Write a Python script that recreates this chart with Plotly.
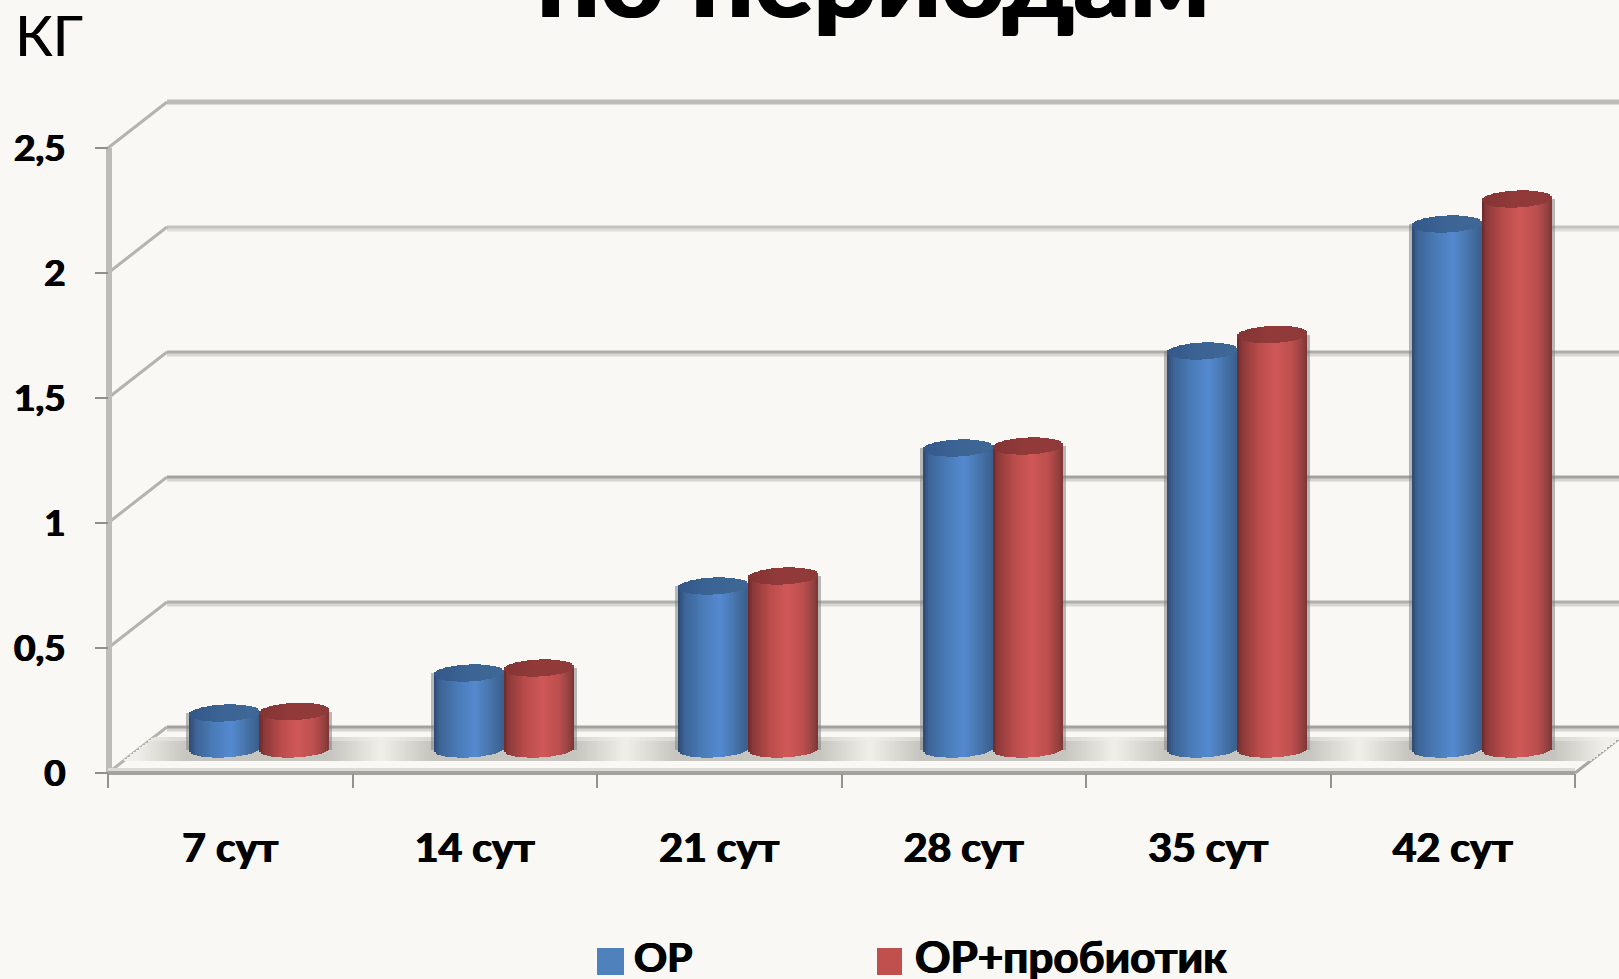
import numpy as np
import plotly.graph_objects as go

# ---- data ----
categories = ["7 сут", "14 сут", "21 сут", "28 сут", "35 сут", "42 сут"]
series_names = ["ОР", "ОР+пробиотик"]
values_or = [0.144, 0.304, 0.652, 1.204, 1.592, 2.10]
values_orp = [0.150, 0.324, 0.692, 1.212, 1.658, 2.20]
y_ticks = [0, 0.5, 1, 1.5, 2, 2.5]
y_labels = ["0", "0,5", "1", "1,5", "2", "2,5"]

# ---- geometry (pixels of the page) ----
W, H = 1619, 979
X0, Y0 = 108, 773       # pixel of data origin
PX_X, PX_Y = 244.5, 250 # pixels per category, per unit
DEPTH_X, DEPTH_Y = 59 / PX_X, 46 / PX_Y
BG = "#f9f8f4"
FONT = "Lato"
THICK = "0.7px 0 0 black, -0.7px 0 0 black"
n = len(categories)


def xd(px):
    return (px - X0) / PX_X


def yd(px):
    return (Y0 - px) / PX_Y


def hexrgb(h):
    return [int(h[i:i + 2], 16) for i in (1, 3, 5)]


def ramp(u, stops):
    us = [s[0] for s in stops]
    rgb = np.array([hexrgb(s[1]) for s in stops], float)
    return ["rgb(%d,%d,%d)" % tuple(np.interp(a, us, rgb[:, k]) for k in range(3)) for a in u]


BLUE = [(-1, "#2e4a70"), (-.8, "#3e6599"), (-.3, "#4a7cb8"), (.2, "#558ad0"), (.6, "#4876ad"), (1, "#3b5f8d")]
RED = [(-1, "#6e2a2a"), (-.85, "#8d3a3a"), (-.4, "#b94c4b"), (.1, "#d05958"), (.6, "#bb4f4e"), (.9, "#8f3f3e"), (1, "#7c3433")]
CAP_BLUE = [(-1, "#34588a"), (0, "#3c6595"), (1, "#3f6896")]
CAP_RED = [(-1, "#843434"), (0, "#933b3b"), (1, "#8f3a3a")]

fig = go.Figure()

# ---- floor plate with soft shadow ----
GROUP_SHIFT = 29
strip_px = np.arange(X0 + 6, 1619, 3.0)
group_px = X0 + PX_X * (np.arange(n) + 0.5) + GROUP_SHIFT
shade = np.max([np.clip((122 - np.abs(strip_px - c)) / 50, 0, 1) for c in group_px], axis=0)
for band_top, band_bot, strength in [(737, 742, 0.55), (741, 761, 1.0)]:
    top = np.minimum(yd(band_top), (strip_px - X0) * (DEPTH_Y / DEPTH_X) / PX_X)
    base = np.maximum(yd(band_bot), (strip_px - 1575) * (DEPTH_Y / DEPTH_X) / PX_X)
    h = np.clip(top - base, 0, None)
    light = np.array(hexrgb("#f0efea"), float)
    dark = np.array(hexrgb("#c6c5bf"), float)
    cols = ["rgb(%d,%d,%d)" % tuple(light + (dark - light) * s * strength) for s in shade]
    fig.add_trace(go.Bar(x=xd(strip_px), y=h, base=base, width=3.6 / PX_X,
                         marker=dict(color=cols, line=dict(width=0)),
                         showlegend=False, hoverinfo="skip"))

# ---- cylinders ----
R_PX = 35
B = 8.5 / PX_Y
TILT = 1.5 / PX_Y
FLOOR = yd(749)
STRIPS = 36
u = (np.arange(STRIPS) + 0.5) / STRIPS * 2 - 1
s = np.sqrt(1 - u ** 2)
step = 2 * R_PX / STRIPS / PX_X


def cylinders(values, side, stops, cap_stops, name):
    centers = np.arange(n) + 0.5 + GROUP_SHIFT / PX_X + side * R_PX / PX_X
    vals = np.array(values)
    # pale fringe beside the cylinder
    fig.add_trace(go.Bar(x=centers + side * (R_PX + 1.5) / PX_X, y=vals + 1 / PX_Y,
                         base=FLOOR - 1 / PX_Y, width=3 / PX_X,
                         marker=dict(color="rgba(130,130,135,0.55)", line=dict(width=0)),
                         showlegend=False, hoverinfo="skip"))
    xs, ys, bs, cs = [], [], [], []
    cx, cy, cb, cc = [], [], [], []
    body = ramp(u, stops)
    cap = ramp(u, cap_stops)
    for c, v in zip(centers, vals):
        for a, sa, col, capcol in zip(u, s, body, cap):
            bottom = FLOOR + TILT * a - B * sa
            xs.append(c + a * R_PX / PX_X); ys.append(v); bs.append(bottom); cs.append(col)
            cx.append(c + a * R_PX / PX_X); cy.append(2 * B * sa)
            cb.append(FLOOR + v + TILT * a - B * sa); cc.append(capcol)
    fig.add_trace(go.Bar(x=xs, y=ys, base=bs, width=step * 1.2, name=name,
                         marker=dict(color=cs, line=dict(width=0)), showlegend=False))
    fig.add_trace(go.Bar(x=cx, y=cy, base=cb, width=step * 1.2,
                         marker=dict(color=cc, line=dict(width=0)),
                         showlegend=False, hoverinfo="skip"))


cylinders(values_or, -1, BLUE, CAP_BLUE, series_names[0])
cylinders(values_orp, 1, RED, CAP_RED, series_names[1])

# ---- walls, grid lines ----
shapes = []
line_styles = {2.5: ("#bdbcb8", None), 2: ("#c4c3bf", "#dedDd8"), 1.5: ("#aeada9", "#d8d7d2"),
               1: ("#a3a29e", "#d5d4cf"), 0.5: ("#b0afab", "#d8d7d2"), 0: ("#a3a29e", "#d5d4cf")}


def seg(x0, y0, x1, y1, color, w):
    return dict(type="line", xref="x", yref="y", x0=x0, y0=y0, x1=x1, y1=y1,
                line=dict(color=color, width=w), layer="below")


for v in y_ticks:
    dark, light = line_styles[v]
    if light:
        shapes.append(seg(DEPTH_X, v + DEPTH_Y - 2 / PX_Y, xd(W + 5), v + DEPTH_Y - 2 / PX_Y, light, 5))
    shapes.append(seg(DEPTH_X, v + DEPTH_Y, xd(W + 5), v + DEPTH_Y, dark, 3 if light else 5))
    shapes.append(seg(0, v, DEPTH_X, v + DEPTH_Y, "#b4b3af", 3))

shapes.append(seg(xd(109), 0, xd(109), 2.5, "#bdbcb8", 6))
shapes.append(seg(n, 0, n + 1.3 * DEPTH_X, 1.3 * DEPTH_Y, "#a8a7a3", 3))
shapes.append(seg(0, 3.5 / PX_Y, n, 3.5 / PX_Y, "#dcdbd6", 3))
shapes.append(seg(0, 0, n, 0, "#a3a29e", 4))

# ---- legend swatches and text ----
annotations = [
    dict(text="по периодам", x=873, y=-26, font=dict(size=111, family=FONT, color="black", weight="bold", shadow="1.5px 0 0 black, -1.5px 0 0 black")),
    dict(text="КГ", x=49, y=34, font=dict(size=56, family=FONT, color="black", shadow="0.4px 0 0 black")),
    dict(text=series_names[0], x=663, y=956, font=dict(size=41, family=FONT, color="black", weight="bold", shadow=THICK)),
    dict(text=series_names[1], x=1071, y=956, font=dict(size=44, family=FONT, color="black", weight="bold", shadow=THICK)),
]
for a in annotations:
    a.update(xref="paper", yref="paper", x=a["x"] / W, y=1 - a["y"] / H,
             xanchor="center", yanchor="middle", showarrow=False)
shapes.append(dict(type="rect", xref="paper", yref="paper", x0=597 / W, x1=624 / W,
                   y0=1 - 975 / H, y1=1 - 948 / H, fillcolor="#4f81bd", line=dict(width=0)))
shapes.append(dict(type="rect", xref="paper", yref="paper", x0=877 / W, x1=902 / W,
                   y0=1 - 975 / H, y1=1 - 948 / H, fillcolor="#c0504d", line=dict(width=0)))

fig.update_layout(
    width=W, height=H, autosize=False, barmode="overlay", bargap=0,
    paper_bgcolor=BG, plot_bgcolor=BG, showlegend=False,
    margin=dict(l=0, r=0, t=0, b=0), shapes=shapes, annotations=annotations,
    xaxis=dict(domain=[0, 1], range=[xd(0), xd(W)], anchor="free", position=1 - Y0 / H,
               tickvals=np.arange(n) + 0.5, ticktext=categories, ticks="", showgrid=False,
               zeroline=False, showline=False, ticklabelstandoff=47,
               tickfont=dict(size=41, family=FONT, color="black", weight="bold", shadow=THICK),
               minor=dict(tickvals=list(range(n + 1)), ticks="outside", ticklen=14,
                          tickwidth=2, tickcolor="#929290", showgrid=False)),
    yaxis=dict(domain=[0, 1], range=[yd(H), yd(0)], anchor="free", position=X0 / W,
               tickvals=y_ticks, ticktext=y_labels, ticks="outside", ticklen=13, tickwidth=2,
               tickcolor="#8f8f8c", showgrid=False, zeroline=False, showline=False,
               ticklabelstandoff=22,
               tickfont=dict(size=37, family=FONT, color="black", weight="bold", shadow=THICK)),
)
fig.write_html("out.html", config=dict(displayModeBar=False), post_script=(
    "document.documentElement.style.overflow='hidden';"
    "document.body.style.margin='0';"
    "document.body.style.background='" + BG + "';"
))
